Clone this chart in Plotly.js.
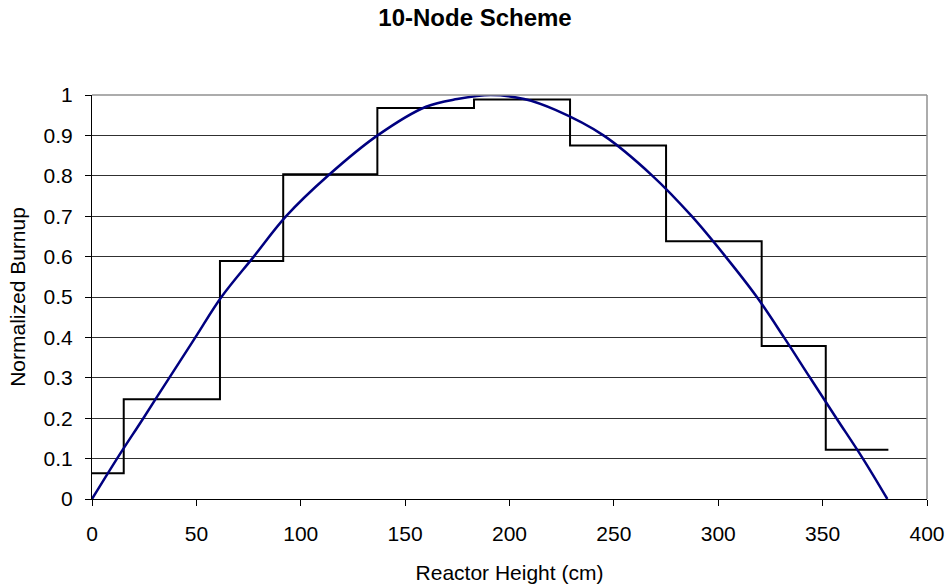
<!DOCTYPE html>
<html>
<head>
<meta charset="utf-8">
<script src="https://cdn.plot.ly/plotly-3.0.1.min.js"></script>
<style>html,body{margin:0;padding:0;background:#fff;}#chart{width:949px;height:586px;}</style>
</head>
<body>
<div id="chart"></div>
<script>
// Node boundaries (cm) and nodal normalized burnup (10 nodes)
const nodeEdges = [0, 15.2, 61.3, 91.6, 136.7, 183, 229, 275, 320.8, 351.5, 381.5];
const nodeValues = [0.064, 0.247, 0.589, 0.804, 0.968, 0.989, 0.875, 0.638, 0.379, 0.122];

// Continuous axial burnup profile
const profileX = [0, 12, 24.6, 37, 49.5, 62, 77.5, 93, 113, 136.8, 160, 175, 191, 207, 222, 245, 268.5, 287.3, 303.5, 318.5, 331.5, 344, 356.6, 369.3, 381];
const profileY = [0, 0.1, 0.2, 0.3, 0.4, 0.5, 0.6, 0.7, 0.8, 0.9, 0.971, 0.99, 1.0, 0.99, 0.963, 0.9, 0.8, 0.7, 0.6, 0.5, 0.4, 0.3, 0.2, 0.1, 0];

const stepY = nodeValues.concat([nodeValues[nodeValues.length - 1]]);

const font = "Arial, 'Liberation Sans', sans-serif";

const traces = [
  {
    x: nodeEdges, y: stepY, type: 'scatter', mode: 'lines',
    line: {shape: 'hv', color: '#000000', width: 2},
    hoverinfo: 'skip', showlegend: false
  },
  {
    x: profileX, y: profileY, type: 'scatter', mode: 'lines',
    line: {shape: 'spline', smoothing: 1, color: '#000080', width: 2.5},
    hoverinfo: 'skip', showlegend: false
  }
];

const layout = {
  width: 949, height: 586,
  paper_bgcolor: '#ffffff', plot_bgcolor: '#ffffff',
  margin: {l: 92, r: 22, t: 95, b: 87},
  font: {family: font, color: '#000000', size: 21},
  showlegend: false,
  title: {
    text: '<b>10-Node Scheme</b>',
    font: {family: font, size: 24, color: '#000000'},
    x: 475/949, xref: 'container', xanchor: 'center',
    y: 1 - 18/586, yref: 'container', yanchor: 'middle'
  },
  xaxis: {
    range: [0, 400], dtick: 50, tick0: 0,
    showgrid: false, zeroline: false,
    showline: true, linecolor: '#000000', linewidth: 1,
    ticks: 'outside', ticklen: 6, tickcolor: '#000000', tickwidth: 1,
    ticklabelstandoff: 10,
    tickfont: {family: font, size: 21, color: '#000000'},
    title: {text: 'Reactor Height (cm)', font: {family: font, size: 21, color: '#000000'}, standoff: 21}
  },
  yaxis: {
    range: [0, 1], dtick: 0.1, tick0: 0,
    showgrid: true, gridcolor: '#303030', gridwidth: 1,
    zeroline: false,
    showline: true, linecolor: '#000000', linewidth: 1,
    ticks: 'outside', ticklen: 6, tickcolor: '#000000', tickwidth: 1,
    ticklabelstandoff: 8,
    tickfont: {family: font, size: 21, color: '#000000'},
    title: {text: 'Normalized Burnup', font: {family: font, size: 21, color: '#000000'}, standoff: 12}
  },
  shapes: [
    {type: 'line', xref: 'paper', yref: 'paper', x0: 0, x1: 1, y0: 1, y1: 1, line: {color: '#909090', width: 1.5}},
    {type: 'line', xref: 'paper', yref: 'paper', x0: 1, x1: 1, y0: 0, y1: 1, line: {color: '#909090', width: 1.5}}
  ]
};

Plotly.newPlot('chart', traces, layout, {displayModeBar: false, staticPlot: true});
</script>
</body>
</html>
